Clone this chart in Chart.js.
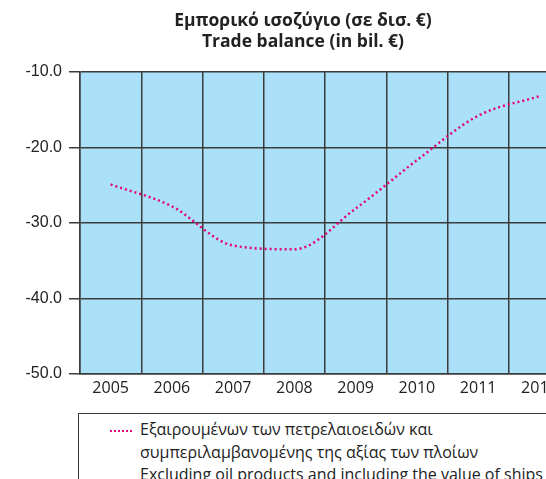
<!DOCTYPE html>
<html>
<head>
<meta charset="utf-8">
<script src="https://cdn.jsdelivr.net/npm/chart.js@4/dist/chart.umd.min.js"></script>
<style>
  html, body { margin: 0; padding: 0; background: #fff; overflow: hidden; }
  #wrap { position: relative; width: 606px; height: 479px; }
  #chart { display: block; }
  #legend {
    position: absolute; left: 78px; top: 413px; width: 600px; height: 100px;
    border: 1px solid #3c3c3c; box-sizing: border-box;
    font-family: "Open Sans", sans-serif; font-size: 16px; color: #222;
  }
  #legend .sample {
    position: absolute; left: 31px; top: 16px; width: 24px; height: 2px;
    background: repeating-linear-gradient(to right, #e5007d 0 2px, transparent 2px 4px);
  }
  #legend .text { position: absolute; left: 61px; top: 4px; line-height: 22.5px; white-space: nowrap; }
</style>
</head>
<body>
<div id="wrap">
  <canvas id="chart" width="606" height="407"></canvas>
  <div id="legend">
    <div class="sample"></div>
    <div class="text" id="legendText"></div>
  </div>
</div>
<script>
const years = ['2005', '2006', '2007', '2008', '2009', '2010', '2011', '2012'];
const tradeBalance = [-24.9, -27.8, -33.0, -33.5, -28.1, -21.7, -15.8, -13.2];
const yTicks = [-50, -40, -30, -20, -10];
const titleLines = ['Εμπορικό ισοζύγιο (σε δισ. €)', 'Trade balance (in bil. €)'];
const seriesLabel = [
  'Εξαιρουμένων των πετρελαιοειδών και',
  'συμπεριλαμβανομένης της αξίας των πλοίων',
  'Excluding oil products and including the value of ships'
];

document.getElementById('legendText').innerHTML = seriesLabel.join('<br>');

// paints the light blue plot background before the grid
const plotBackground = {
  id: 'plotBackground',
  beforeDraw(chart) {
    const { ctx, chartArea: a } = chart;
    ctx.save();
    ctx.fillStyle = '#abe0f9';
    ctx.fillRect(a.left, a.top, a.right - a.left, a.bottom - a.top);
    ctx.restore();
  }
};

// two-line title centred on the whole canvas, not on the padded layout box
const centredTitle = {
  id: 'centredTitle',
  afterDraw(chart) {
    const ctx = chart.ctx;
    ctx.save();
    ctx.font = 'bold 17.5px "Open Sans", sans-serif';
    ctx.fillStyle = '#222';
    ctx.textAlign = 'center';
    ctx.textBaseline = 'middle';
    titleLines.forEach((line, i) => ctx.fillText(line, chart.width / 2, 21 + i * 21.5));
    ctx.restore();
  }
};

const gridColor = '#3c3c3c';

new Chart(document.getElementById('chart'), {
  type: 'line',
  data: {
    labels: years,
    datasets: [{
      label: seriesLabel.join(' '),
      data: tradeBalance,
      borderColor: '#e5007d',
      borderWidth: 2.5,
      borderDash: [2, 3],
      pointRadius: 0,
      cubicInterpolationMode: 'monotone',
      fill: false
    }]
  },
  options: {
    responsive: false,
    animation: false,
    layout: { padding: { left: 0, right: 36, top: 72, bottom: 4 } },
    plugins: {
      legend: { display: false },
      tooltip: { enabled: false },
      title: { display: false }
    },
    scales: {
      x: {
        offset: true,
        grid: { offset: true, color: gridColor, lineWidth: 1.5, drawTicks: false },
        border: { color: gridColor, width: 1.5 },
        ticks: {
          color: '#222',
          padding: 5,
          maxRotation: 0,
          font: { family: '"Open Sans", sans-serif', size: 16 }
        }
      },
      y: {
        min: -50,
        max: -10,
        afterBuildTicks(scale) {
          scale.ticks = yTicks.map(v => ({ value: v }));
        },
        afterFit(scale) { scale.width = 80; },
        grid: { color: gridColor, lineWidth: 1.5, tickLength: 11 },
        border: { color: gridColor, width: 1.5 },
        ticks: {
          color: '#222',
          padding: 7,
          font: { family: '"Liberation Sans", Arial, sans-serif', size: 16 },
          callback: v => v.toFixed(1)
        }
      }
    }
  },
  plugins: [plotBackground, centredTitle]
});
</script>
</body>
</html>
